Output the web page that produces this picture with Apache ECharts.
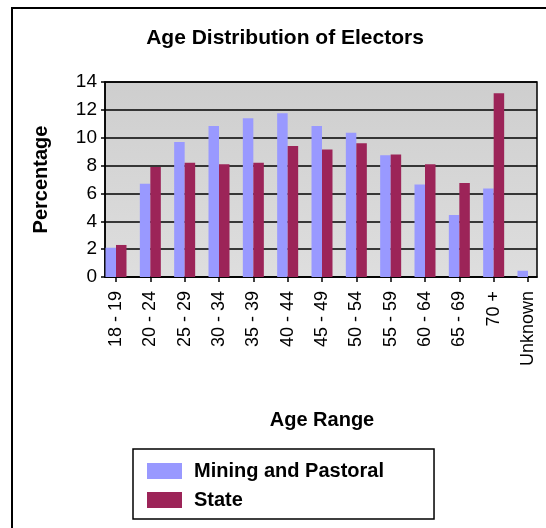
<!DOCTYPE html>
<html>
<head>
<meta charset="utf-8">
<script src="https://cdn.jsdelivr.net/npm/echarts/dist/echarts.min.js"></script>
<style>
html,body{margin:0;padding:0;background:#fff;}
#c{width:546px;height:528px;}
</style>
</head>
<body>
<div id="c"></div>
<script>
const categories = ['18 - 19','20 - 24','25 - 29','30 - 34','35 - 39','40 - 44','45 - 49','50 - 54','55 - 59','60 - 64','65 - 69','70 +','Unknown'];
const miningPastoral = [2.1, 6.7, 9.7, 10.85, 11.4, 11.75, 10.85, 10.35, 8.75, 6.65, 4.45, 6.35, 0.45];
const state = [2.3, 7.9, 8.2, 8.1, 8.2, 9.4, 9.15, 9.6, 8.8, 8.1, 6.75, 13.2, 0];
const seriesNames = ['Mining and Pastoral', 'State'];
const yMin = 0, yMax = 14, yStep = 2;

const FONT = '"Liberation Sans", Arial, Helvetica, sans-serif';
const chart = echarts.init(document.getElementById('c'), null, {renderer: 'canvas'});

chart.setOption({
  animation: false,
  backgroundColor: '#ffffff',
  textStyle: {fontFamily: FONT, color: '#000'},
  title: {
    text: 'Age Distribution of Electors',
    left: 280, top: 23, textAlign: 'center',
    textStyle: {fontFamily: FONT, fontSize: 21, fontWeight: 'bold', color: '#000'}
  },
  graphic: [{
    type: 'rect', silent: true,
    shape: {x: 12, y: 8, width: 600, height: 600},
    style: {fill: 'none', stroke: '#000', lineWidth: 2}
  }],
  legend: {
    orient: 'vertical', left: 133, top: 449,
    padding: [12, 50, 9, 14], itemGap: 9,
    itemWidth: 35, itemHeight: 16, icon: 'rect',
    borderColor: '#000', borderWidth: 1.5,
    selectedMode: false,
    data: seriesNames,
    textStyle: {fontFamily: FONT, fontSize: 20, fontWeight: 'bold', color: '#000', padding: [0, 0, 0, 7]}
  },
  grid: [
    {left: 105, right: 9, top: 82, bottom: 251, show: true,
     backgroundColor: {type: 'linear', x: 0, y: 0, x2: 0, y2: 1,
       colorStops: [{offset: 0, color: '#cecece'}, {offset: 1, color: '#dedede'}]},
     borderColor: '#000', borderWidth: 1.5},
    {left: 116, right: 18, top: 82, bottom: 251}
  ],
  xAxis: [
    {gridIndex: 0, type: 'value', min: 0, max: 1,
     axisLine: {show: true, lineStyle: {color: '#000', width: 1.5}},
     axisTick: {show: false}, axisLabel: {show: false}, splitLine: {show: false}},
    {gridIndex: 1, type: 'category', data: categories, boundaryGap: false,
     axisLine: {show: false},
     axisTick: {show: true, length: 5, lineStyle: {color: '#000', width: 1.5}},
     axisLabel: {rotate: 90, interval: 0, fontSize: 18, color: '#000', margin: 14, fontFamily: FONT},
     splitLine: {show: false},
     name: 'Age Range', nameLocation: 'middle', nameGap: 133,
     nameTextStyle: {fontFamily: FONT, fontSize: 20, fontWeight: 'bold', color: '#000'}}
  ],
  yAxis: [
    {gridIndex: 0, type: 'value', min: yMin, max: yMax, interval: yStep,
     axisLine: {show: true, lineStyle: {color: '#000', width: 1.5}},
     axisTick: {show: true, length: 4, lineStyle: {color: '#000', width: 1.5}},
     axisLabel: {fontSize: 19, color: '#000', margin: 8, fontFamily: FONT},
     splitLine: {show: true, lineStyle: {color: '#000', width: 1.5}},
     name: 'Percentage', nameLocation: 'middle', nameGap: 54,
     nameTextStyle: {fontFamily: FONT, fontSize: 20, fontWeight: 'bold', color: '#000'}},
    {gridIndex: 1, type: 'value', min: yMin, max: yMax, show: false}
  ],
  series: [
    {type: 'bar', name: seriesNames[0], xAxisIndex: 1, yAxisIndex: 1, data: miningPastoral,
     barWidth: 10.5, barGap: '0%', clip: false, itemStyle: {color: '#9999FF'}},
    {type: 'bar', name: seriesNames[1], xAxisIndex: 1, yAxisIndex: 1, data: state,
     barWidth: 10.5, barGap: '0%', clip: false, itemStyle: {color: '#9C2458'}}
  ]
});
</script>
</body>
</html>
